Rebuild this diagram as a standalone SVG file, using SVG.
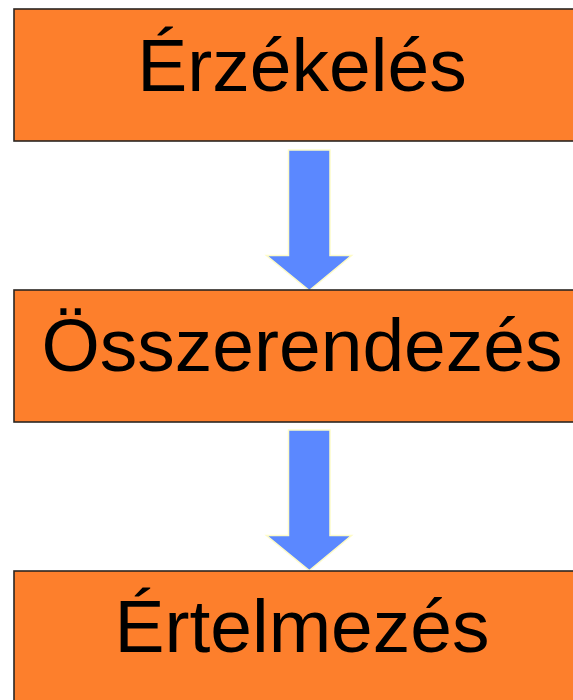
<svg xmlns="http://www.w3.org/2000/svg" width="573" height="700" viewBox="0 0 573 700">
  <defs>
    <style>
      .box { fill: #fd7f2c; stroke: #2b2622; stroke-width: 1.6; }
      .label { font-family: "Liberation Sans", Arial, sans-serif; font-size: 75px; fill: #000; text-anchor: middle; }
      .arrow { fill: #5b88ff; stroke: #fdfbc8; stroke-width: 1.5; stroke-linejoin: miter; }
    </style>
  </defs>
  <rect width="573" height="700" fill="#ffffff"/>

  <g id="connectors">
    <polygon class="arrow" points="288.5,150 330,150 330,255.5 351.5,255.5 309.3,290.5 266.5,255.5 288.5,255.5"/>
    <polygon class="arrow" points="288.5,430 330,430 330,535.5 351.5,535.5 309.3,570.5 266.5,535.5 288.5,535.5"/>
  </g>

  <g id="node-erzekeles">
    <rect class="box" x="14" y="9" width="590" height="132"/>
    <text class="label" x="302" y="91">Érzékelés</text>
  </g>

  <g id="node-osszerendezes">
    <rect class="box" x="14" y="290" width="590" height="132"/>
    <text class="label" x="302" y="371">Összerendezés</text>
  </g>

  <g id="node-ertelmezes">
    <rect class="box" x="14" y="571" width="590" height="140"/>
    <text class="label" x="302" y="652">Értelmezés</text>
  </g>
</svg>
